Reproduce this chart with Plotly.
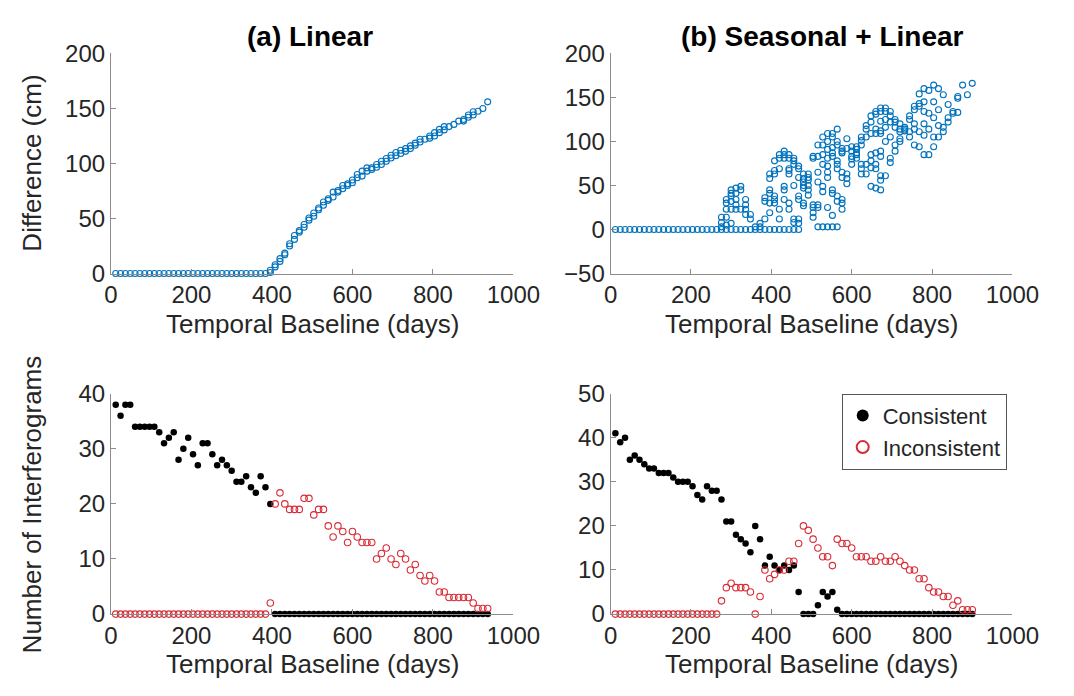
import plotly.graph_objects as go

# ---------------- (a) Linear: difference vs temporal baseline ----------------
lin_days = [12, 24, 36, 48, 60, 72, 84, 96, 108, 120, 132, 144, 156, 168, 180, 192,
            204, 216, 228, 240, 252, 264, 276, 288, 300, 312, 324, 336, 348, 360, 372, 384,
            396, 396, 408, 408, 420, 420, 432, 432, 444, 444, 456, 456, 468, 468, 480, 480,
            492, 492, 504, 504, 516, 516, 528, 528, 540, 540, 552, 552, 564, 564, 576, 576,
            588, 588, 600, 600, 612, 612, 624, 624, 636, 636, 648, 648, 660, 660, 672, 672,
            684, 684, 696, 696, 708, 708, 720, 720, 732, 732, 744, 744, 756, 756, 768, 768,
            780, 792, 792, 804, 804, 816, 816, 828, 828, 840, 852, 864, 876, 876, 888, 888,
            900, 900, 912, 924, 936]
lin_diff = [0, 0, 0, 0, 0, 0, 0, 0, 0, 0, 0, 0, 0, 0, 0, 0,
            0, 0, 0, 0, 0, 0, 0, 0, 0, 0, 0, 0, 0, 0, 0, 0,
            1, 3, 6, 8, 11, 13.5, 17, 18.5, 25, 27, 31, 34.5, 37.5, 39, 42, 44.5,
            48.5, 50.5, 52, 55, 58, 59.5, 62, 65, 66.5, 68, 69.5, 74, 74, 75.5, 77, 80,
            80, 81.5, 82.5, 85, 87, 90, 88.5, 93, 93, 96, 94.5, 96, 96.5, 99, 99, 102,
            102, 104.5, 105, 107.5, 107, 110, 109, 112, 111, 113.5, 113.5, 116, 116.5, 118.5, 119.5, 122,
            122, 123, 125, 125, 128, 128, 131, 130.5, 133.5, 133.5, 135.5, 138.5, 138.5, 140, 142, 144,
            144, 147, 147.5, 150, 156]

# ---------------- (b) Seasonal + Linear: difference vs temporal baseline ----------------
seas_days = [12, 24, 36, 48, 60, 72, 84, 96, 108, 120, 132, 144, 156, 168, 180, 192,
             204, 216, 228, 240, 252, 264, 276, 288, 300, 312, 324, 336, 348, 360, 372, 384,
             396, 408, 420, 432, 444, 456, 468, 480, 492, 504, 516, 528, 540, 552, 564, 576,
             588, 600, 612, 624, 636, 648, 660, 672, 684, 696, 708, 720, 732, 744, 756, 768,
             780, 792, 804, 816, 828, 840, 852, 864, 876, 888, 900]
seas_diff = [
    [0], [0], [0], [0], [0], [0], [0], [0], [0], [0], [0], [0], [0], [0], [0], [0],
    [0], [0], [0], [0], [0], [0],
    [0, 3, 8, 14],
    [0, 5, 14, 23, 30, 34],
    [0, 7, 23, 32, 38, 41, 45],
    [0, 23, 28, 34, 41, 47],
    [0, 23, 45, 49],
    [0, 17, 23, 28, 34],
    [0, 12, 17],
    [0, 3],
    [0, 3, 7],
    [0, 12, 32, 36],
    [0, 19, 30, 41, 45, 58, 63],
    [0, 30, 34, 38, 63, 67, 78],
    [0, 12, 23, 69, 81, 85],
    [0, 34, 45, 49, 81, 85, 89],
    [0, 23, 30, 63, 67, 69, 81, 85],
    [0, 8, 12, 50, 74, 78, 81],
    [0, 7, 12, 34, 38, 59, 69, 72],
    [27, 30, 47, 50, 54, 58, 63],
    [39, 45, 50, 56, 59, 63],
    [14, 19, 25, 28, 81, 83],
    [3, 25, 28, 54, 65, 83, 96],
    [3, 43, 49, 74, 85, 96, 105],
    [3, 25, 59, 65, 72, 81, 91, 100, 109],
    [3, 16, 41, 45, 83, 87, 93, 105, 109],
    [3, 32, 38, 69, 74, 78, 96, 100, 114],
    [23, 30, 34, 59, 65, 87, 89, 92],
    [52, 58, 63, 92, 103],
    [74, 80, 83, 89, 94],
    [81, 85, 87, 91, 94],
    [63, 69, 74, 96, 101, 105],
    [63, 74, 105, 114, 118],
    [49, 70, 78, 85, 109, 122, 129],
    [47, 69, 74, 87, 109, 114, 131, 134],
    [45, 56, 61, 83, 89, 109, 112, 123, 134, 138],
    [61, 100, 116, 125, 134, 138],
    [76, 81, 105, 122, 129, 134],
    [89, 96, 116, 122, 125],
    [100, 103, 111, 114, 120],
    [112, 114, 116],
    [105, 111, 125, 129],
    [96, 114, 120, 136, 140],
    [94, 111, 140, 143, 154],
    [85, 107, 120, 134, 145, 160],
    [85, 114, 132, 158],
    [94, 105, 127, 145, 164],
    [105, 118, 136, 160],
    [111, 116, 153],
    [122, 127, 142],
    [132, 134],
    [133, 149, 151],
    [164],
    [153],
    [166],
]

# ---------------- Interferogram counts, (a) Linear ----------------
days_a = [12, 24, 36, 48, 60, 72, 84, 96, 108, 120, 132, 144, 156, 168, 180, 192,
          204, 216, 228, 240, 252, 264, 276, 288, 300, 312, 324, 336, 348, 360, 372, 384,
          396, 408, 420, 432, 444, 456, 468, 480, 492, 504, 516, 528, 540, 552, 564, 576,
          588, 600, 612, 624, 636, 648, 660, 672, 684, 696, 708, 720, 732, 744, 756, 768,
          780, 792, 804, 816, 828, 840, 852, 864, 876, 888, 900, 912, 924, 936]
consistent_a = [38, 36, 38, 38, 34, 34, 34, 34, 34, 33, 31, 32, 33, 28, 30, 32,
                29, 27, 31, 31, 29, 27, 28, 27, 26, 24, 24, 25, 23, 22, 25, 23,
                20, 0, 0, 0, 0, 0, 0, 0, 0, 0, 0, 0, 0, 0, 0, 0,
                0, 0, 0, 0, 0, 0, 0, 0, 0, 0, 0, 0, 0, 0, 0, 0,
                0, 0, 0, 0, 0, 0, 0, 0, 0, 0, 0, 0, 0, 0]
inconsistent_a = [0, 0, 0, 0, 0, 0, 0, 0, 0, 0, 0, 0, 0, 0, 0, 0,
                  0, 0, 0, 0, 0, 0, 0, 0, 0, 0, 0, 0, 0, 0, 0, 0,
                  2, 20, 22, 20, 19, 19, 19, 21, 21, 18, 19, 19, 16, 14, 16, 15,
                  13, 15, 14, 13, 13, 13, 10, 11, 12, 10, 9, 11, 10, 8, 9, 7,
                  6, 7, 6, 4, 4, 3, 3, 3, 3, 3, 2, 1, 1, 1]

# ---------------- Interferogram counts, (b) Seasonal + Linear ----------------
days_b = [12, 24, 36, 48, 60, 72, 84, 96, 108, 120, 132, 144, 156, 168, 180, 192,
          204, 216, 228, 240, 252, 264, 276, 288, 300, 312, 324, 336, 348, 360, 372, 384,
          396, 408, 420, 432, 444, 456, 468, 480, 492, 504, 516, 528, 540, 552, 564, 576,
          588, 600, 612, 624, 636, 648, 660, 672, 684, 696, 708, 720, 732, 744, 756, 768,
          780, 792, 804, 816, 828, 840, 852, 864, 876, 888, 900]
consistent_b = [41, 39, 40, 35, 36, 35, 34, 33, 33, 32, 32, 32, 31, 30, 30, 30,
                29, 27, 26, 29, 28, 28, 26, 21, 21, 18, 17, 16, 14, 20, 17, 11,
                13, 11, 10, 11, 10, 11, 5, 0, 0, 0, 2, 5, 4, 5, 1, 0,
                0, 0, 0, 0, 0, 0, 0, 0, 0, 0, 0, 0, 0, 0, 0, 0,
                0, 0, 0, 0, 0, 0, 0, 0, 0, 0, 0]
inconsistent_b = [0, 0, 0, 0, 0, 0, 0, 0, 0, 0, 0, 0, 0, 0, 0, 0,
                  0, 0, 0, 0, 0, 0, 3, 6, 7, 6, 6, 6, 5, 0, 4, 10,
                  8, 9, 10, 10, 12, 12, 16, 20, 19, 17, 15, 13, 13, 11, 17, 16,
                  16, 15, 13, 13, 13, 12, 12, 13, 12, 12, 13, 12, 11, 10, 10, 8,
                  8, 6, 5, 5, 4, 4, 2, 3, 1, 1, 1]

panel_titles = ["(a) Linear", "(b) Seasonal + Linear"]
x_title = "Temporal Baseline (days)"
y_title_top = "Difference (cm)"
y_title_bottom = "Number of Interferograms"

# ---------------- styling ----------------
FONT = "Liberation Sans, Helvetica, Arial, sans-serif"
BLUE = "#0072BD"
RED = "#D92B35"
AXIS_GREY = "#8c8c8c"
TEXT = "#262626"

seas_x = [d for d, col in zip(seas_days, seas_diff) for _ in col]
seas_y = [v for col in seas_diff for v in col]

fig = go.Figure()

open_blue = dict(symbol="circle-open", size=6, color=BLUE, line=dict(width=1.1, color=BLUE))
fig.add_trace(go.Scatter(x=lin_days, y=lin_diff, mode="markers", marker=open_blue,
                         xaxis="x", yaxis="y", showlegend=False, cliponaxis=False))
fig.add_trace(go.Scatter(x=seas_x, y=seas_y, mode="markers", marker=open_blue,
                         xaxis="x2", yaxis="y2", showlegend=False, cliponaxis=False))

dot = dict(symbol="circle", size=6.5, color="black")
ring = dict(symbol="circle-open", size=6.5, color=RED, line=dict(width=1.1, color=RED))

fig.add_trace(go.Scatter(x=days_a, y=consistent_a, mode="markers", marker=dot,
                         xaxis="x3", yaxis="y3", showlegend=False, cliponaxis=False))
fig.add_trace(go.Scatter(x=days_a, y=inconsistent_a, mode="markers", marker=ring,
                         xaxis="x3", yaxis="y3", showlegend=False, cliponaxis=False))
fig.add_trace(go.Scatter(x=days_b, y=consistent_b, mode="markers", marker=dot,
                         xaxis="x4", yaxis="y4", name="Consistent", cliponaxis=False))
fig.add_trace(go.Scatter(x=days_b, y=inconsistent_b, mode="markers", marker=ring,
                         xaxis="x4", yaxis="y4", name="Inconsistent", cliponaxis=False))


def axis(domain, anchor, rng, dtick):
    return dict(domain=domain, anchor=anchor, range=rng, dtick=dtick,
                showline=True, linecolor=AXIS_GREY, linewidth=1,
                ticks="inside", ticklen=5, tickcolor=AXIS_GREY,
                showgrid=False, zeroline=False,
                tickfont=dict(size=24, color=TEXT, family=FONT))


W, H = 1074, 696
left_col = [107.3 / W, 523.0 / W]
right_col = [623.3 / W, 1038.3 / W]
top_row = [1 - 270.0 / H, 1 - 41.0 / H]
bottom_row = [1 - 624.3 / H, 1 - 395.0 / H]

fig.update_layout(
    width=W, height=H,
    margin=dict(l=0, r=0, t=0, b=0),
    paper_bgcolor="white", plot_bgcolor="white",
    font=dict(family=FONT, color=TEXT),
    xaxis=axis(left_col, "y", [0, 1000], 200),
    yaxis=axis(top_row, "x", [0, 200], 50),
    xaxis2=axis(right_col, "y2", [0, 1000], 200),
    yaxis2=axis(top_row, "x2", [-50, 200], 50),
    xaxis3=axis(left_col, "y3", [0, 1000], 200),
    yaxis3=axis(bottom_row, "x3", [0, 40], 10),
    xaxis4=axis(right_col, "y4", [0, 1000], 200),
    yaxis4=axis(bottom_row, "x4", [0, 50], 10),
    legend=dict(x=862 / W, y=1 - 395 / H, xanchor="left", yanchor="top",
                bgcolor="white", bordercolor="#555555", borderwidth=1,
                font=dict(size=22, color=TEXT, family=FONT),
                itemsizing="constant", tracegroupgap=0),
)

ann = []
ann.append(dict(text="<b>" + panel_titles[0] + "</b>", x=312.5 / W, y=1 - 23 / H,
                font=dict(size=28, color="black")))
ann.append(dict(text="<b>" + panel_titles[1] + "</b>", x=842 / W, y=1 - 23 / H,
                font=dict(size=28, color="black")))
for cx in (315 / W, 831 / W):
    ann.append(dict(text=x_title, x=cx, y=1 - 323 / H, font=dict(size=26, color=TEXT)))
    ann.append(dict(text=x_title, x=cx, y=1 - 676 / H, font=dict(size=26, color=TEXT)))
ann.append(dict(text=y_title_top, x=26 / W, y=1 - 155.5 / H, textangle=-90,
                font=dict(size=26, color=TEXT)))
ann.append(dict(text=y_title_bottom, x=26 / W, y=1 - 510 / H, textangle=-90,
                font=dict(size=26, color=TEXT)))
for a in ann:
    a.update(xref="paper", yref="paper", showarrow=False, xanchor="center", yanchor="middle")
    a["font"]["family"] = FONT
fig.update_layout(annotations=ann)

fig.write_html("out.html")
